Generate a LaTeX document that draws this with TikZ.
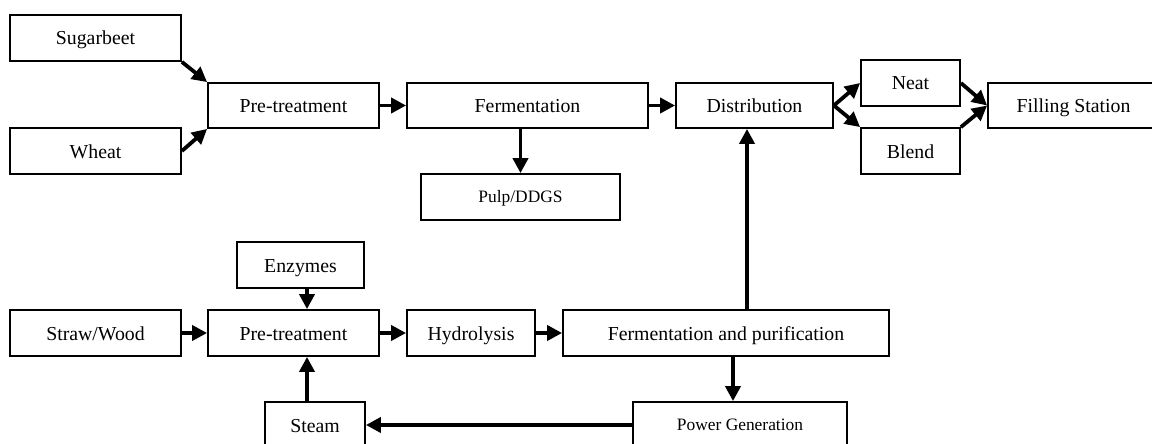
\documentclass[tikz,border=0pt]{standalone}
\usepackage{fontspec}
\setmainfont{Liberation Serif}
\usetikzlibrary{arrows.meta}
\begin{document}
\begin{tikzpicture}[x=1pt,y=-1pt,
  box/.style={draw,line width=1.8pt,minimum height=46pt,inner sep=0pt,text height=15pt,text depth=1pt,font=\fontsize{19.8}{23}\selectfont},
  smallbox/.style={box,text height=12pt,text depth=2pt,font=\fontsize{17.4}{21}\selectfont},
  arr/.style={line width=3.8pt,-{Triangle[length=15pt,width=15pt]}}]
\useasboundingbox (0,0) rectangle (1152,444);
\clip (0,0) rectangle (1152,444);
% top line
\node[box,minimum width=171pt] (sugar) at (95.5,38) {Sugarbeet};
\node[box,minimum width=171pt] (wheat) at (95.5,151) {Wheat};
\node[box,minimum width=171pt,minimum height=45pt] (pt1) at (293.5,105.5) {Pre-treatment};
\node[box,minimum width=241pt,minimum height=45pt] (ferm) at (527.5,105.5) {Fermentation};
\node[box,minimum width=157pt,minimum height=45pt] (dist) at (754.5,105.5) {Distribution};
\node[smallbox,minimum width=199pt] (pulp) at (520.5,197) {Pulp/DDGS};
\node[box,minimum width=99pt] (neat) at (910.5,83) {Neat};
\node[box,minimum width=99pt] (blend) at (910.5,151) {Blend};
\node[box,minimum width=171pt,minimum height=45pt] (fill) at (1073.5,105.5) {Filling Station};
% bottom line
\node[box,minimum width=127pt] (enz) at (300.5,265) {Enzymes};
\node[box,minimum width=171pt] (straw) at (95.5,333) {Straw/Wood};
\node[box,minimum width=171pt] (pt2) at (293.5,333) {Pre-treatment};
\node[box,minimum width=128pt] (hyd) at (471,333) {Hydrolysis};
\node[box,minimum width=326pt] (fp) at (726,333) {Fermentation and purification};
\node[box,minimum width=100pt] (steam) at (315,425) {Steam};
\node[smallbox,minimum width=214pt] (power) at (740,425) {Power Generation};
\coordinate (upx) at (747,0);
\coordinate (enzx) at (307,0);
\coordinate (powx) at (733,0);
% arrows
\draw[arr] (sugar.south east) -- (pt1.north west);
\draw[arr] (wheat.east) -- (pt1.south west);
\draw[arr] (pt1.east) -- (ferm.west);
\draw[arr] (ferm.east) -- (dist.west);
\draw[arr] (pulp.north |- ferm.south) -- (pulp.north);
\draw[arr] (dist.east) -- (neat.west);
\draw[arr] (dist.east) -- (blend.north west);
\draw[arr] (neat.east) -- (fill.west);
\draw[arr] (blend.north east) -- (fill.west);
\draw[arr] (upx |- fp.north) -- (upx |- dist.south);
\draw[arr] (enzx |- enz.south) -- (enzx |- pt2.north);
\draw[arr] (enzx |- steam.north) -- (enzx |- pt2.south);
\draw[arr] (straw.east) -- (pt2.west);
\draw[arr] (pt2.east) -- (hyd.west);
\draw[arr] (hyd.east) -- (fp.west);
\draw[arr] (powx |- fp.south) -- (powx |- power.north);
\draw[arr] (power.west) -- (steam.east);
\end{tikzpicture}
\end{document}
